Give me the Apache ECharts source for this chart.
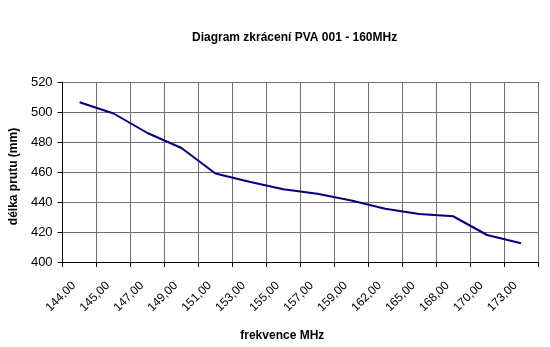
<!DOCTYPE html>
<html>
<head>
<meta charset="utf-8">
<script src="https://cdn.jsdelivr.net/npm/echarts@6/dist/echarts.min.js"></script>
<style>
  html, body { margin: 0; padding: 0; background: #fff; }
  #chart { width: 550px; height: 347px; }
</style>
</head>
<body>
<div id="chart"></div>
<script>
// Frequencies (MHz) and measured element length (mm)
const frequencies = ['144,00', '145,00', '147,00', '149,00', '151,00', '153,00', '155,00',
                     '157,00', '159,00', '162,00', '165,00', '168,00', '170,00', '173,00'];
const lengths = [506.5, 499, 486, 476, 459, 453.5, 448.5, 445.5, 441, 435.5, 432, 430.5, 418, 412.5];

const yMin = 400, yMax = 520, yStep = 20;

const chart = echarts.init(document.getElementById('chart'), null, { renderer: 'canvas' });
const font = 'Arial, "Liberation Sans", sans-serif';

chart.setOption({
  animation: false,
  backgroundColor: '#ffffff',
  title: {
    text: 'Diagram zkrácení PVA 001 - 160MHz',
    left: 187,
    top: 27,
    textStyle: { fontFamily: font, fontSize: 12, fontWeight: 'bold', color: '#000' }
  },
  grid: { left: 62, right: 12, top: 82, bottom: 85, containLabel: false },
  xAxis: {
    type: 'category',
    data: frequencies,
    boundaryGap: true,
    name: 'frekvence MHz',
    nameLocation: 'middle',
    nameGap: 68,
    nameTextStyle: { fontFamily: font, fontSize: 12, fontWeight: 'bold', color: '#000', padding: [0, 36, 0, 0] },
    axisLine: { lineStyle: { color: '#000', width: 1 } },
    axisTick: { show: true, length: 5, lineStyle: { color: '#000' } },
    axisLabel: { rotate: 45, margin: 16, padding: [0, 8, 0, 0], fontFamily: font, fontSize: 12, color: '#000', interval: 0 },
    splitLine: { show: true, lineStyle: { color: '#707070', width: 1 } }
  },
  yAxis: {
    type: 'value',
    min: yMin,
    max: yMax,
    interval: yStep,
    name: 'délka prutu (mm)',
    nameLocation: 'middle',
    nameGap: 42,
    nameRotate: 90,
    nameTextStyle: { fontFamily: font, fontSize: 12, fontWeight: 'bold', color: '#000', padding: [0, 9, 0, 0] },
    axisLine: { show: true, lineStyle: { color: '#000', width: 1 } },
    axisTick: { show: true, length: 5, lineStyle: { color: '#000' } },
    axisLabel: { margin: 10, fontFamily: font, fontSize: 13, color: '#000' },
    splitLine: { show: true, lineStyle: { color: '#707070', width: 1 } }
  },
  series: [{
    type: 'line',
    data: lengths,
    symbol: 'none',
    smooth: false,
    lineStyle: { color: '#000080', width: 2 }
  }]
});
</script>
</body>
</html>
